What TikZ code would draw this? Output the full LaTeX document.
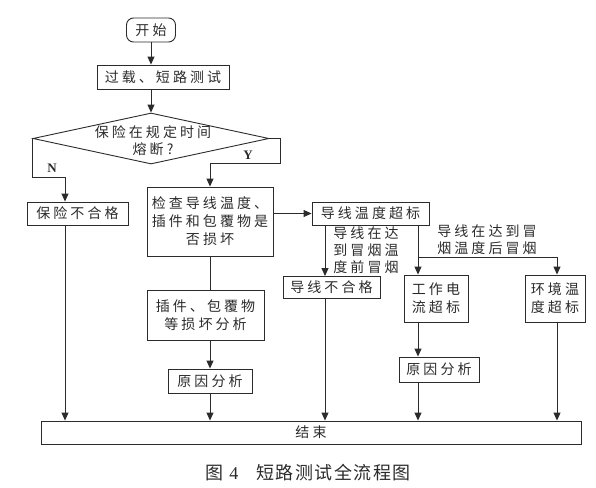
\documentclass[tikz,border=0pt]{standalone}
\usepackage{fontspec}
\setmainfont{Liberation Serif}
\newfontfamily\cjk[LetterSpace=22]{Noto Sans CJK SC}
\newfontfamily\cjkcap[LetterSpace=8]{Noto Sans CJK SC}
\usetikzlibrary{shapes.geometric,arrows.meta}
\definecolor{ink}{HTML}{2B2B2B}
\begin{document}
\begin{tikzpicture}[x=1pt,y=-1pt,
  box/.style={draw=ink, line width=0.9pt, inner sep=0pt, align=center,
    font=\cjk\fontsize{14}{18}\selectfont, text=ink},
  arr/.style={draw=ink, line width=0.9pt, -{Triangle[length=8pt,width=7pt]}},
  ln/.style={draw=ink, line width=0.9pt},
  yn/.style={font=\bfseries\fontsize{13}{13}\selectfont, text=ink, inner sep=0pt},
  lbl/.style={align=center, font=\cjk\fontsize{14}{17}\selectfont, text=ink, inner sep=0pt}]
\useasboundingbox (0,0) rectangle (596,487);

% nodes
\node[box, rounded corners=7pt, minimum width=49pt, minimum height=24pt] (start) at (151,30) {开始};
\node[box, minimum width=132pt, minimum height=24pt] (test) at (163,77) {过载、短路测试};
\node[draw=ink, line width=0.9pt, diamond, minimum width=236pt, minimum height=51pt, inner sep=0pt] (dia) at (151,138.5) {};
\node[lbl] (diat) at (153,141) {保险在规定时间\\熔断?};
\node[box, minimum width=101pt, minimum height=23pt] (fail1) at (77.5,213.5) {保险不合格};
\node[box, minimum width=126pt, minimum height=69pt] (check) at (210,221.5) {检查导线温度、\\插件和包覆物是\\否损坏};
\node[box, minimum width=117pt, minimum height=23pt] (wt) at (370.5,213.5) {导线温度超标};
\node[box, minimum width=97pt, minimum height=22pt] (wf) at (331.5,287.5) {导线不合格};
\node[box, minimum width=64pt, minimum height=47pt] (cur) at (436,298.5) {工作电\\流超标};
\node[box, minimum width=60pt, minimum height=47pt] (env) at (555,298.5) {环境温\\度超标};
\node[box, minimum width=117pt, minimum height=50pt] (dmg) at (205.5,315) {插件、包覆物\\等损坏分析};
\node[box, minimum width=84pt, minimum height=24pt] (cause1) at (210,381) {原因分析};
\node[box, minimum width=80pt, minimum height=25pt] (cause2) at (439,369.5) {原因分析};
\node[box, minimum width=540pt, minimum height=23pt] (end) at (311,432.5) {结束};

% labels
\node[lbl] (l1) at (366,250) {导线在达\\到冒烟温\\度前冒烟};
\node[lbl] (l2) at (487,240) {导线在达到冒\\烟温度后冒烟};
\node[yn] (nl) at (52,168) {N};
\node[yn] (yl) at (248,155) {Y};
\node[text=ink, inner sep=0pt] (cap) at (308,473) {{\cjkcap\fontsize{18}{20}\selectfont 图}\hspace{6pt}{\fontsize{18}{20}\selectfont 4}\hspace{18pt}{\cjkcap\fontsize{18}{20}\selectfont 短路测试全流程图}};

% helper coordinates
\coordinate (nturn) at (65,177);
\coordinate (yturn) at (280,163);
\coordinate (j) at (418,257);
\coordinate (xa) at (325,0);
\coordinate (xe) at (557,0);

% connectors
\draw[arr] (start.south) -- (start.south |- test.north);
\draw[arr] (test.south -| start.south) -- (dia.north);
\draw[arr] (dia.west) |- (nturn) -- (nturn |- fail1.north);
\draw[arr] (dia.east) -| (yturn) -- (yturn -| check.north) -- (check.north);
\draw[arr] (nturn |- fail1.south) -- (nturn |- end.north);
\draw[arr] (check.east |- wt.west) -- (wt.west);
\draw[ln] (check.south) -- (check.south |- dmg.north);
\draw[arr] (check.south |- dmg.south) -- (cause1.north);
\draw[arr] (cause1.south) -- (cause1.south |- end.north);
\draw[arr] (xa |- wt.south) -- (xa |- wf.north);
\draw[arr] (xa |- wf.south) -- (xa |- end.north);
\draw[arr] (j |- wt.south) -- (j |- cur.north);
\draw[arr] (j) -| (xe |- env.north);
\draw[arr] (j |- cur.south) -- (j |- cause2.north);
\draw[arr] (j |- cause2.south) -- (j |- end.north);
\draw[arr] (xe |- env.south) -- (xe |- end.north);
\end{tikzpicture}
\end{document}
